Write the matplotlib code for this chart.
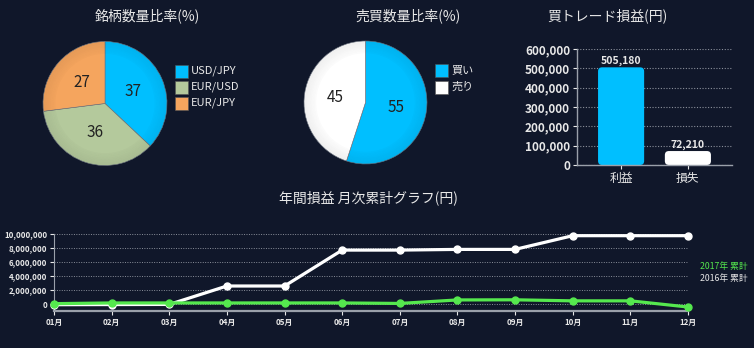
import matplotlib
matplotlib.use("Agg")
import matplotlib.pyplot as plt
from matplotlib.patches import Rectangle, FancyBboxPatch, Wedge

plt.rcParams['font.family'] = ['Noto Sans CJK JP', 'DejaVu Sans']

BG = '#10172a'
FG = '#e8e8e8'
CYAN = '#00bfff'
SAGE = '#b4c99c'
ORANGE = '#f5a55e'
GREEN = '#55e84e'
GRID = '#8a8f9a'

# ---------------- data ----------------
pair_labels = ['USD/JPY', 'EUR/USD', 'EUR/JPY']
pair_values = [37, 36, 27]
side_labels = ['買い', '売り']
side_values = [55, 45]
pl_labels = ['利益', '損失']
pl_values = [505180, 72210]
months = ['01月', '02月', '03月', '04月', '05月', '06月', '07月', '08月', '09月', '10月', '11月', '12月']
cum_2016 = [-100000, -80000, -60000, 2570000, 2570000, 7700000, 7700000, 7800000, 7800000, 9760000, 9760000, 9760000]
cum_2017 = [50000, 150000, 150000, 150000, 150000, 150000, 80000, 580000, 600000, 450000, 450000, -430000]

W, H = 754, 348
fig = plt.figure(figsize=(W / 100, H / 100), dpi=100, facecolor=BG)


def px_axes(x0, y0, x1, y1):
    """axes from pixel box (top-left origin)"""
    return fig.add_axes([x0 / W, 1 - y1 / H, (x1 - x0) / W, (y1 - y0) / H])


def px_text(x, y, s, **kw):
    fig.text(x / W, 1 - y / H, s, **kw)


def shade_pie(ax):
    # subtle darker rim to imitate the 3D shading of the original
    for i in range(8):
        r = 1.0 - i * 0.025
        ax.add_patch(Wedge((0, 0), r, 0, 360, width=0.025, facecolor='black',
                           edgecolor='none', alpha=0.05 * (8 - i) / 8 + 0.01, zorder=5))


def legend_box(x, y, col, lab):
    fig.patches.append(Rectangle((x / W, 1 - (y + 6.5) / H), 13 / W, 13 / H,
                                 transform=fig.transFigure, facecolor=col,
                                 edgecolor='#555', linewidth=0.4))
    px_text(x + 16, y, lab, color=FG, fontsize=8, ha='left', va='center')


# ---------------- pie 1 ----------------
ax1 = px_axes(43, 41.5, 167, 165.5)
ax1.set_facecolor(BG)
wedges, texts = ax1.pie(pair_values, colors=[CYAN, SAGE, ORANGE], startangle=90,
                        counterclock=False, labels=[str(v) for v in pair_values],
                        labeldistance=0.5,
                        wedgeprops=dict(edgecolor='#6b7380', linewidth=0.4),
                        textprops=dict(color='#222222', fontsize=11))
for t in texts:
    t.set_ha('center')
    t.set_va('center')
    t.set_zorder(10)
shade_pie(ax1)
ax1.set_xlim(-1, 1)
ax1.set_ylim(-1, 1)
ax1.set_aspect('equal')
px_text(147, 16, '銘柄数量比率(%)', color=FG, fontsize=10, ha='center', va='center')
for i, (lab, col) in enumerate(zip(pair_labels, [CYAN, SAGE, ORANGE])):
    legend_box(175, 71 + i * 16, col, lab)

# ---------------- pie 2 ----------------
ax2 = px_axes(304, 41, 427, 164)
ax2.set_facecolor(BG)
_, texts2 = ax2.pie(side_values, colors=[CYAN, '#ffffff'], startangle=90, counterclock=False,
                    labels=[str(v) for v in side_values], labeldistance=0.5,
                    wedgeprops=dict(edgecolor='#6b7380', linewidth=0.4),
                    textprops=dict(color='#222222', fontsize=11))
for t in texts2:
    t.set_ha('center')
    t.set_va('center')
    t.set_zorder(10)
shade_pie(ax2)
ax2.set_xlim(-1, 1)
ax2.set_ylim(-1, 1)
ax2.set_aspect('equal')
px_text(408, 16, '売買数量比率(%)', color=FG, fontsize=10, ha='center', va='center')
for i, (lab, col) in enumerate(zip(side_labels, [CYAN, '#ffffff'])):
    legend_box(435, 70 + i * 17, col, lab)

# ---------------- bar chart ----------------
ax3 = px_axes(577, 49, 732, 165)
ax3.set_facecolor(BG)
bars = ax3.bar(range(len(pl_values)), pl_values, width=0.69, color=[CYAN, '#ffffff'])
ax3.set_xlim(-0.66, 1.66)
ax3.set_ylim(0, 600000)
# rounded bar corners: replace each rectangle with a rounded box of same geometry
x_per_px = 2.32 / 155
y_per_px = 600000 / 116
for b in bars:
    b.set_visible(False)
    rb = FancyBboxPatch((b.get_x(), b.get_y()), b.get_width(), b.get_height(),
                        boxstyle=f'round,pad=0,rounding_size={4 * x_per_px}',
                        mutation_aspect=y_per_px / x_per_px,
                        facecolor=b.get_facecolor(), edgecolor='none', zorder=2)
    ax3.add_patch(rb)
ax3.set_yticks(range(0, 600001, 100000))
ax3.set_yticklabels([f'{v:,}' for v in range(0, 600001, 100000)])
ax3.set_xticks(range(len(pl_labels)))
ax3.set_xticklabels(pl_labels)
ax3.yaxis.grid(True, linestyle=(0, (1, 1.5)), color=GRID, linewidth=0.8)
ax3.set_axisbelow(True)
for s in ['top', 'right']:
    ax3.spines[s].set_visible(False)
for s in ['left', 'bottom']:
    ax3.spines[s].set_color('#9aa0aa')
    ax3.spines[s].set_linewidth(1)
ax3.tick_params(colors=FG, labelsize=8.5, length=3, width=0.8, pad=2)
ax3.tick_params(axis='y', labelsize=8.5)
for lbl in ax3.get_yticklabels():
    lbl.set_fontweight('bold')
for b, v in zip(bars, pl_values):
    ax3.annotate(f'{v:,}', (b.get_x() + b.get_width() / 2, v), xytext=(0, 1),
                 textcoords='offset points', ha='center', va='bottom',
                 color=FG, fontsize=7.5, fontweight='bold')
px_text(607, 16, '買トレード損益(円)', color=FG, fontsize=10, ha='center', va='center')

# ---------------- line chart ----------------
ax4 = px_axes(54, 234, 688, 311)
ax4.set_facecolor(BG)
x = list(range(len(months)))
ax4.plot(x, cum_2016, color='#ffffff', linewidth=2.3, marker='o', markersize=5,
         markerfacecolor='#ffffff', markeredgecolor='#ffffff', clip_on=False, zorder=3)
ax4.plot(x, cum_2017, color=GREEN, linewidth=2.3, marker='o', markersize=5,
         markerfacecolor=GREEN, markeredgecolor=GREEN, clip_on=False, zorder=4)
ax4.set_xlim(0, 11)
ax4.set_ylim(-1000000, 10000000)
yt = list(range(0, 10000001, 2000000))
ax4.set_yticks(yt)
ax4.set_yticklabels([f'{v:,}' for v in yt])
ax4.set_xticks(x)
ax4.set_xticklabels(months)
ax4.yaxis.grid(True, linestyle=(0, (1, 1.5)), color=GRID, linewidth=0.7)
ax4.set_axisbelow(True)
for s in ['top', 'right']:
    ax4.spines[s].set_visible(False)
ax4.spines['left'].set_color('#9aa0aa')
ax4.spines['bottom'].set_color('#9aa0aa')
ax4.spines['bottom'].set_linewidth(1.6)
ax4.tick_params(colors=FG, labelsize=5.7, length=3, width=0.8, pad=2)
for lbl in ax4.get_yticklabels() + ax4.get_xticklabels():
    lbl.set_fontweight('bold')
px_text(368, 198, '年間損益 月次累計グラフ(円)', color=FG, fontsize=10, ha='center', va='center')
px_text(700, 267, '2017年 累計', color=GREEN, fontsize=6.3, ha='left', va='center')
px_text(700, 278, '2016年 累計', color=FG, fontsize=6.3, ha='left', va='center')

fig.savefig('out.png', dpi=100, facecolor=BG)
